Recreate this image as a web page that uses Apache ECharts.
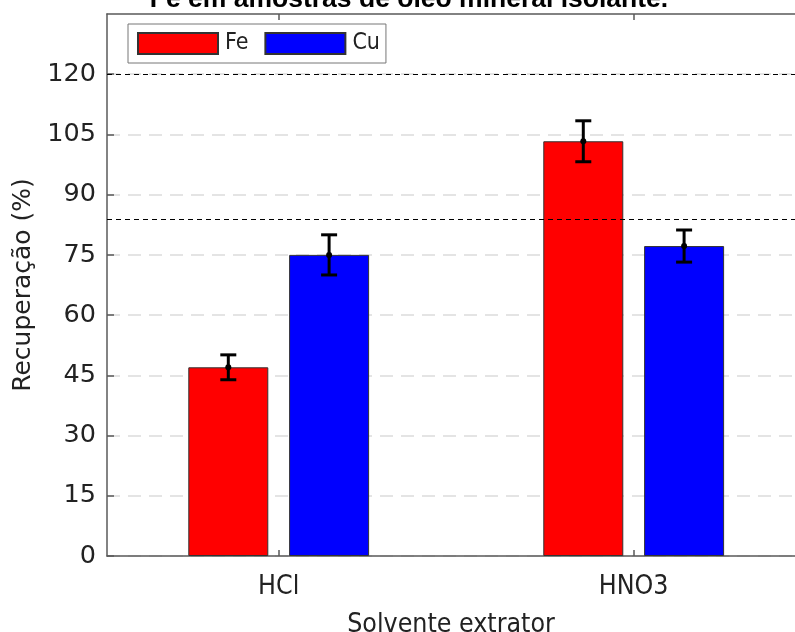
<!DOCTYPE html>
<html>
<head>
<meta charset="utf-8">
<script src="https://cdn.jsdelivr.net/npm/echarts@6/dist/echarts.min.js"></script>
<style>
  html, body { margin: 0; padding: 0; background: #fff; }
  #chart { width: 795px; height: 632px; }
</style>
</head>
<body>
<div id="chart"></div>
<script>
// dados
const categories = ['HCl', 'HNO3'];
const seriesNames = ['Fe', 'Cu'];
const feMean = [47.0, 103.3];
const feErr = [3.1, 5.1];
const cuMean = [75.0, 77.2];
const cuErr = [5.0, 4.0];
const yTicks = [0, 15, 30, 45, 60, 75, 90, 105, 120];
const refLines = [120, 84];
const titleText = 'Fe em amostras de óleo mineral isolante.';

const barWidth = 80;
const barGapPct = 0.26;
const half = (barWidth + barWidth * barGapPct) / 2;
const labelFont = '"DejaVu Sans Condensed", "Liberation Sans Narrow", "DejaVu Sans", sans-serif';
const axisColor = '#5a5a5a';

const xPos = categories.map((c, i) => i + 1);
const toBars = (arr) => arr.map((v, i) => [xPos[i], v]);
const toErr = (m, e) => m.map((v, i) => [xPos[i], v, e[i]]);

function errorBar(offset) {
  return function (params, api) {
    const x = api.value(0), m = api.value(1), e = api.value(2);
    const pm = api.coord([x, m]);
    const pt = api.coord([x, m + e]);
    const pb = api.coord([x, m - e]);
    const cx = pm[0] + offset;
    const st = { stroke: '#000', lineWidth: 3 };
    return {
      type: 'group',
      children: [
        { type: 'line', shape: { x1: cx, y1: pt[1], x2: cx, y2: pb[1] }, style: st },
        { type: 'line', shape: { x1: cx - 8, y1: pt[1], x2: cx + 8, y2: pt[1] }, style: st },
        { type: 'line', shape: { x1: cx - 8, y1: pb[1], x2: cx + 8, y2: pb[1] }, style: st },
        { type: 'circle', shape: { cx: cx, cy: pm[1], r: 3 }, style: { fill: '#000' } }
      ]
    };
  };
}

const chart = echarts.init(document.getElementById('chart'));
const option = {
  animation: false,
  backgroundColor: '#fff',
  graphic: [{
    type: 'text',
    x: 409, y: 13,
    style: {
      text: titleText,
      font: 'bold 26.5px "Liberation Sans", Arial, sans-serif',
      fill: '#000',
      textAlign: 'center',
      textVerticalAlign: 'bottom'
    }
  }],
  legend: {
    data: seriesNames,
    left: 128, top: 24,
    orient: 'horizontal',
    itemWidth: 80, itemHeight: 21,
    itemGap: 16,
    padding: [8, 6, 8, 9],
    borderColor: '#777', borderWidth: 1,
    backgroundColor: '#fff',
    icon: 'rect',
    textStyle: { fontFamily: labelFont, fontSize: 23, color: '#222', padding: [0, 0, 0, 2] }
  },
  grid: { left: 107, right: 0, top: 14, bottom: 76, outerBoundsMode: 'none', containLabel: false },
  xAxis: [{
    type: 'value',
    min: 0.5163, max: 2.4544,
    name: 'Solvente extrator',
    nameLocation: 'middle',
    nameGap: 56,
    nameTextStyle: { fontFamily: labelFont, fontSize: 26.5, color: '#222' },
    axisLine: { show: true, onZero: false, lineStyle: { color: axisColor, width: 1.5 } },
    axisTick: { show: true, inside: true, length: 6, customValues: xPos, lineStyle: { color: axisColor, width: 1.5 } },
    axisLabel: {
      customValues: xPos,
      margin: 18,
      fontFamily: labelFont, fontSize: 26.5, color: '#222',
      formatter: (v) => categories[Math.round(v) - 1]
    },
    splitLine: { show: false }
  }, {
    type: 'value',
    position: 'top',
    min: 0.5163, max: 2.4544,
    axisLine: { show: true, onZero: false, lineStyle: { color: axisColor, width: 1.5 } },
    axisTick: { show: true, inside: true, length: 6, customValues: xPos, lineStyle: { color: axisColor, width: 1.5 } },
    axisLabel: { show: false },
    splitLine: { show: false }
  }],
  yAxis: {
    type: 'value',
    min: 0, max: 135, interval: 15,
    name: 'Recuperação (%)',
    nameLocation: 'middle',
    nameGap: 70,
    nameTextStyle: { fontFamily: '"DejaVu Sans", sans-serif', fontSize: 25, color: '#222' },
    axisLine: { show: true, lineStyle: { color: axisColor, width: 1.5 } },
    axisTick: { show: true, inside: true, length: 7, customValues: yTicks, lineStyle: { color: axisColor, width: 1.5 } },
    axisLabel: {
      customValues: yTicks,
      margin: 11,
      fontFamily: '"DejaVu Sans", sans-serif', fontSize: 25.5, color: '#222'
    },
    splitLine: { show: true, lineStyle: { color: '#dcdcdc', width: 1.5, type: [13, 8] } }
  },
  series: [
    {
      name: seriesNames[0], type: 'bar',
      barWidth: barWidth, barGap: (barGapPct * 100) + '%',
      itemStyle: { color: '#ff0000', borderColor: '#333', borderWidth: 1 },
      data: toBars(feMean),
      markLine: {
        silent: true, symbol: 'none', label: { show: false },
        lineStyle: { color: '#000', width: 1, type: [5, 4] },
        data: refLines.map(v => ({ yAxis: v }))
      },
      z: 2
    },
    {
      name: seriesNames[1], type: 'bar',
      barWidth: barWidth, barGap: (barGapPct * 100) + '%',
      itemStyle: { color: '#0000ff', borderColor: '#333', borderWidth: 1 },
      data: toBars(cuMean),
      z: 2
    },
    {
      type: 'custom', name: 'errFe', renderItem: errorBar(-half),
      data: toErr(feMean, feErr), z: 5, encode: { x: 0, y: [1] }
    },
    {
      type: 'custom', name: 'errCu', renderItem: errorBar(half),
      data: toErr(cuMean, cuErr), z: 5, encode: { x: 0, y: [1] }
    }
  ]
};
chart.setOption(option);
window.onresize = function () { chart.resize(); };
</script>
</body>
</html>
